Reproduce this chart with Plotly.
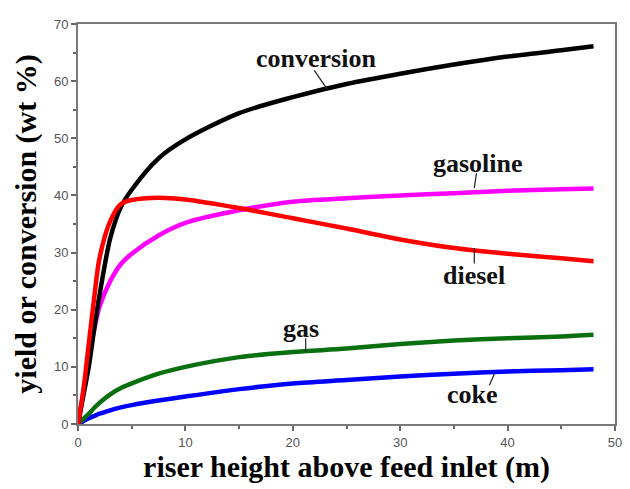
import plotly.graph_objects as go

x = [0, 0.5, 1, 1.5, 2, 3, 4, 5, 7.5, 10, 15, 20, 25, 30, 35, 40, 45, 48]
conversion = [0, 5, 10, 16.5, 22.5, 32.5, 38.0, 41.0, 46.5, 49.8, 54.4, 57.2, 59.5, 61.3, 62.9, 64.3, 65.4, 66.1]
diesel = [0, 6, 14, 22, 29, 35.5, 38.5, 39.2, 39.6, 39.3, 37.8, 36.0, 34.2, 32.3, 30.8, 29.8, 29.0, 28.5]
gasoline = [0, 5.5, 11.5, 16.5, 20.5, 25.0, 28.0, 29.8, 33.0, 35.2, 37.4, 38.9, 39.5, 40.0, 40.4, 40.8, 41.1, 41.2]
gas = [0, 0.9, 1.8, 2.8, 3.7, 5.2, 6.3, 7.1, 8.8, 10.0, 11.7, 12.6, 13.2, 14.0, 14.6, 15.0, 15.3, 15.6]
coke = [0, 0.5, 1.0, 1.4, 1.8, 2.4, 2.9, 3.3, 4.1, 4.8, 6.1, 7.1, 7.7, 8.3, 8.8, 9.2, 9.4, 9.6]

series_names = ["conversion", "gasoline", "diesel", "gas", "coke"]
series_values = [conversion, gasoline, diesel, gas, coke]
series_colors = ["#000000", "#ff00ff", "#ff0000", "#0a700f", "#0000ff"]

# label text positions and leader lines (data coords)
label_x = [22.2, 37.2, 36.9, 20.8, 36.7]
label_y = [64.0, 45.6, 26.0, 16.8, 5.1]
leader_x0 = [22.0, 37.1, 36.9, 21.2, 38.3]
leader_y0 = [61.9, 43.9, 28.1, 15.0, 6.8]
leader_x1 = [23.2, 36.9, 36.9, 21.2, 38.8]
leader_y1 = [58.6, 41.3, 30.8, 12.6, 8.9]

fig = go.Figure()
order = [4, 3, 1, 0, 2]
for i in order:
    fig.add_trace(go.Scatter(
        x=x, y=series_values[i], mode="lines", name=series_names[i],
        line=dict(color=series_colors[i], width=4.5, shape="spline", smoothing=0.8),
        showlegend=False, hoverinfo="skip"))

for i, name in enumerate(series_names):
    fig.add_annotation(x=label_x[i], y=label_y[i], text="<b>" + name + "</b>",
                       showarrow=False, xref="x", yref="y",
                       font=dict(family="Liberation Serif", size=26, color="#111111"))
    fig.add_shape(type="line", xref="x", yref="y",
                  x0=leader_x0[i], y0=leader_y0[i], x1=leader_x1[i], y1=leader_y1[i],
                  line=dict(color="#222222", width=1.2))

axis_common = dict(
    showline=True, linecolor="#7a7a7a", linewidth=2, mirror=True,
    ticks="outside", ticklen=5, tickwidth=1.5, tickcolor="#666666",
    showgrid=False, zeroline=False,
    tickfont=dict(family="Liberation Sans", size=13, color="#555555"),
    minor=dict(ticks="outside", ticklen=3, tickwidth=1.5, tickcolor="#666666", dtick=5),
)

fig.update_xaxes(range=[0, 50], dtick=10, tick0=0,
                 title=dict(text="<b>riser height above feed inlet (m)</b>",
                            font=dict(family="Liberation Serif", size=30, color="#000000"),
                            standoff=3),
                 **axis_common)
fig.update_yaxes(range=[0, 70], dtick=10, tick0=0,
                 title=dict(text="<b>yield or conversion (wt %)</b>",
                            font=dict(family="Liberation Serif", size=30, color="#000000"),
                            standoff=8),
                 **axis_common)

fig.update_layout(
    width=622, height=481,
    margin=dict(l=70, r=8, t=16, b=65),
    plot_bgcolor="white", paper_bgcolor="white",
)

fig.write_html("out.html")
